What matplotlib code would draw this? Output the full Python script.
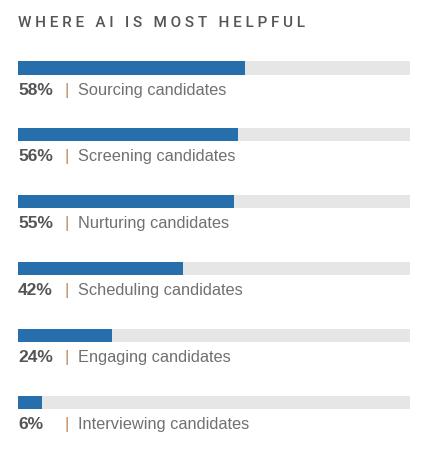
import matplotlib
matplotlib.use("Agg")
import matplotlib.pyplot as plt
import matplotlib.transforms as mtransforms

# data
categories = ["Sourcing candidates", "Screening candidates", "Nurturing candidates",
              "Scheduling candidates", "Engaging candidates", "Interviewing candidates"]
values = [58, 56, 55, 42, 24, 6]
title = "WHERE AI IS MOST HELPFUL"

BLUE = "#266eac"
TRACK = "#e6e6e6"
DARK = "#555555"
LABEL = "#707070"
PIPE = "#c08a5e"

W, H = 423, 455
fig = plt.figure(figsize=(W / 100, H / 100), dpi=100)
fig.patch.set_facecolor("white")

# axes spans track width, full height
ax = fig.add_axes([18 / W, 0, (410 - 18) / W, 1])
ax.set_xlim(0, 100)
ax.set_ylim(5.793, -1.018)
ax.axis("off")

ypos = list(range(len(categories)))
bh = 0.195
ax.barh(ypos, [100] * len(values), height=bh, color=TRACK, zorder=1)
ax.barh(ypos, values, height=bh, color=BLUE, zorder=2)

down = mtransforms.offset_copy(ax.transData, fig=fig, x=0, y=-22, units="dots")
for y, v, cat in zip(ypos, values, categories):
    ax.text(0, y, f"{v}%", transform=down, fontsize=12.5, fontweight="bold",
            color=DARK, va="center", ha="left", family="Liberation Sans")
    ax.text(12.5, y, "|", transform=down, fontsize=12.5, color=PIPE,
            va="center", ha="center", family="Liberation Sans")
    ax.text(15.3, y, cat, transform=down, fontsize=11.8, color=LABEL,
            va="center", ha="left", family="Liberation Sans")

spaced = "   ".join(" ".join(w) for w in title.split(" "))
fig.text(18 / W, 1 - 23 / H, spaced, fontsize=11, fontweight="medium", color=DARK,
         va="center", ha="left", family="Roboto")

fig.savefig("out.png", dpi=100, facecolor="white")
